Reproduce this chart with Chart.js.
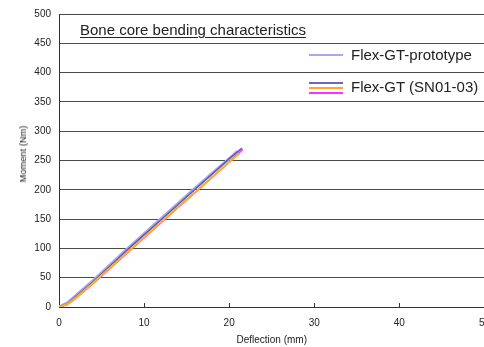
<!DOCTYPE html>
<html lang="en">
<head>
<meta charset="UTF-8">
<title>Bone core bending characteristics</title>
<script src="https://cdn.jsdelivr.net/npm/chart.js"></script>
<style>
  html, body { margin: 0; padding: 0; background: #fff; overflow: hidden; }
  #wrap { position: relative; width: 500px; height: 347px; }
  #chart { position: absolute; left: 0; top: 0; }
  .txt { position: absolute; font-family: "Liberation Sans", Arial, sans-serif; color: #222; white-space: nowrap; line-height: 17px; }
  #title { left: 80px; top: 21px; font-size: 15px; text-decoration: underline; text-underline-offset: 2px; }
  .leg-text { left: 351px; font-size: 15px; }
  .leg-line { position: absolute; left: 309px; width: 34px; height: 2px; }
  #ytitle { left: 23px; top: 154px; font-size: 9.3px; line-height: 10px; transform: translate(-50%, -50%) rotate(-90deg); }
</style>
</head>
<body>
<div id="wrap">
  <canvas id="chart" width="500" height="347"></canvas>
  <div class="txt" id="title">Bone core bending characteristics</div>
  <div class="leg-line" style="top:54px; background:#a8a8f0"></div>
  <div class="txt leg-text" style="top:46px">Flex-GT-prototype</div>
  <div class="leg-line" style="top:82px; background:#6a6ab8"></div>
  <div class="leg-line" style="top:87px; background:#ffa928"></div>
  <div class="leg-line" style="top:92px; background:#ff30ff"></div>
  <div class="txt leg-text" style="top:78px">Flex-GT (SN01-03)</div>
  <div class="txt" id="ytitle">Moment (Nm)</div>
</div>
<script>
// deflection (mm) and moment (Nm)
const protoDefl = [0, 1, 2, 4, 6, 8, 10, 12, 14, 16, 18, 20, 21];
const protoMoment = [0, 7, 20, 45, 72, 99, 125, 151, 177, 203, 228, 253, 266];

const sn01Defl = [0, 1, 2, 4, 6, 8, 10, 12, 14, 16, 18, 20, 21.5];
const sn01Moment = [0, 6, 18, 43, 70, 97, 123, 149, 175, 201, 227, 253, 271];

const sn02Defl = [0, 1, 2, 4, 6, 8, 10, 12, 14, 16, 18, 20, 21.2];
const sn02Moment = [0, 5, 16, 41, 67, 93, 119, 145, 171, 196, 222, 247, 262];

const sn03Defl = [0, 1, 2, 4, 6, 8, 10, 12, 14, 16, 18, 20, 21.6];
const sn03Moment = [0, 4, 15, 40, 66, 92, 118, 144, 170, 195, 221, 247, 269];

const xTickMarks = [10, 20, 30, 40];

function pts(xs, ys) {
  return xs.map((x, i) => ({ x: x, y: ys[i] }));
}

const FONT = '"Liberation Sans", Arial, sans-serif';

// small tick marks pointing up from the x axis
const innerTicks = {
  id: 'innerTicks',
  afterDraw(chart) {
    const ctx = chart.ctx;
    const xs = chart.scales.x;
    const bottom = chart.chartArea.bottom;
    ctx.save();
    ctx.strokeStyle = '#333';
    ctx.lineWidth = 1;
    xTickMarks.forEach(v => {
      const px = Math.round(xs.getPixelForValue(v)) + 0.5;
      ctx.beginPath();
      ctx.moveTo(px, bottom);
      ctx.lineTo(px, bottom - 4);
      ctx.stroke();
    });
    ctx.restore();
  }
};

const ctx = document.getElementById('chart').getContext('2d');
const chart = new Chart(ctx, {
  type: 'line',
  data: {
    datasets: [
      { label: 'Flex-GT-prototype', data: pts(protoDefl, protoMoment), borderColor: '#a8a8f0', borderWidth: 3, order: 3 },
      { label: 'SN01', data: pts(sn01Defl, sn01Moment), borderColor: '#5a5ab0', borderWidth: 1.5, order: 1 },
      { label: 'SN03', data: pts(sn03Defl, sn03Moment), borderColor: '#ff30ff', borderWidth: 1.5, order: 2 },
      { label: 'SN02', data: pts(sn02Defl, sn02Moment), borderColor: '#ffb020', borderWidth: 2, order: 0 }
    ]
  },
  options: {
    responsive: false,
    animation: false,
    parsing: false,
    elements: { point: { radius: 0 }, line: { tension: 0 } },
    layout: { padding: { left: 0, right: 13, top: 12, bottom: 0 } },
    plugins: { legend: { display: false }, tooltip: { enabled: false } },
    scales: {
      x: {
        type: 'linear',
        min: 0, max: 50,
        afterFit: s => { s.height = 40; },
        ticks: { stepSize: 10, padding: 10, color: '#222', font: { family: FONT, size: 10 }, maxRotation: 0 },
        grid: { display: false, drawTicks: false },
        border: { display: true, color: '#333', width: 1 },
        title: { display: true, text: 'Deflection (mm)', color: '#222', font: { family: FONT, size: 10 }, padding: { top: 0, bottom: 1 } }
      },
      y: {
        min: 0, max: 500,
        afterFit: s => { s.width = 59; },
        ticks: { stepSize: 50, padding: 8, color: '#222', font: { family: FONT, size: 10 } },
        grid: { color: '#4a4a4a', drawTicks: false },
        border: { display: true, color: '#333', width: 1 }
      }
    }
  },
  plugins: [innerTicks]
});
</script>
</body>
</html>
